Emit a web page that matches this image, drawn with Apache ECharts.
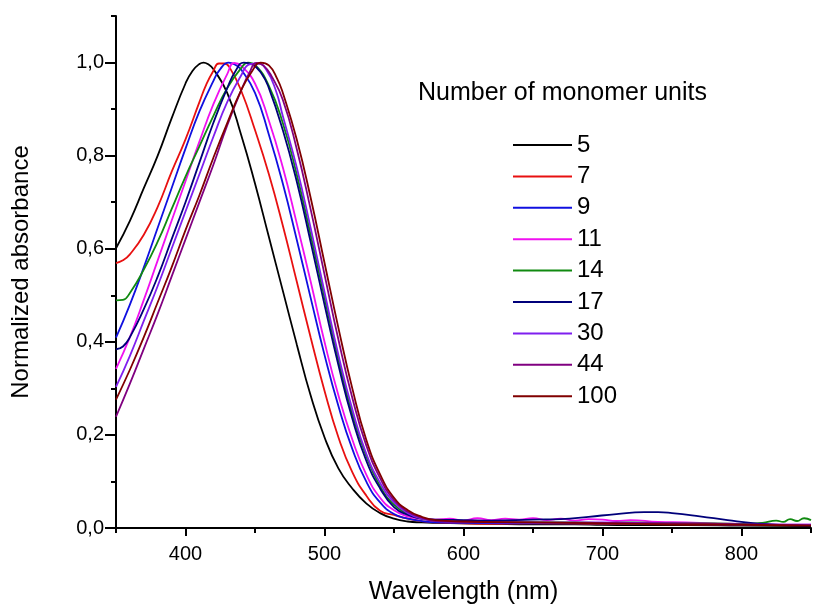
<!DOCTYPE html>
<html><head><meta charset="utf-8">
<script src="https://cdn.jsdelivr.net/npm/echarts@6.0.0/dist/echarts.min.js"></script>
<style>html,body{margin:0;padding:0;background:#fff}#c{width:814px;height:610px}</style>
</head><body><div id="c"></div>
<script>
// ---- data ----
const seriesNames = ['5','7','9','11','14','17','30','44','100'];
const seriesColors = ['#000000','#e81010','#1010e0','#f010f0','#108a10','#00007a','#7f1fef','#800080','#800000'];

const wl5 = [350,360,370,380,390,400,405,410,413,416,420,430,440,450,460,470,480,490,500,510,520,530,540,550,560,570,580,600,620,650,680,700,730,760,800,850];
const ab5 = [0.601,0.66,0.73,0.80,0.88,0.955,0.982,0.997,1.0,0.997,0.986,0.935,0.845,0.74,0.625,0.51,0.395,0.285,0.195,0.128,0.085,0.053,0.032,0.02,0.014,0.012,0.011,0.010,0.009,0.008,0.008,0.007,0.006,0.006,0.005,0.004];

const wl7 = [350,355,360,370,380,390,400,410,415,420,424,428,432,440,450,460,470,480,490,500,510,520,530,540,550,560,570,580,600,620,650,700,750,800,850];
const ab7 = [0.569,0.575,0.588,0.63,0.69,0.765,0.835,0.915,0.953,0.982,0.998,0.998,0.988,0.94,0.855,0.76,0.65,0.53,0.41,0.295,0.195,0.12,0.07,0.037,0.028,0.02,0.015,0.012,0.010,0.009,0.010,0.009,0.008,0.007,0.006];

const wl9 = [350,360,370,380,390,400,410,420,425,431,436,440,450,460,470,480,490,500,510,520,530,540,550,560,570,580,600,650,700,750,800,850];
const ab9 = [0.409,0.48,0.56,0.645,0.73,0.815,0.895,0.96,0.986,1.0,0.995,0.985,0.935,0.845,0.74,0.62,0.495,0.372,0.262,0.17,0.1,0.055,0.03,0.02,0.015,0.012,0.011,0.010,0.010,0.009,0.007,0.006];

const wl11 = [350,360,370,380,390,400,410,420,430,435,440,450,460,470,480,490,500,510,520,530,540,550,560,570,580,590,600,610,620,630,640,650,660,670,680,690,700,710,720,740,760,780,800,820,850];
const ab11 = [0.342,0.41,0.49,0.575,0.66,0.745,0.83,0.91,0.975,0.999,0.993,0.955,0.875,0.775,0.655,0.53,0.4,0.285,0.19,0.115,0.065,0.038,0.025,0.02,0.018,0.02,0.016,0.021,0.017,0.02,0.018,0.021,0.017,0.02,0.016,0.019,0.018,0.015,0.017,0.013,0.012,0.01,0.009,0.008,0.007];

const wl14 = [350,355,360,370,380,390,400,410,420,430,440,445,450,460,470,480,490,500,510,520,530,540,550,560,570,580,600,620,650,680,700,720,740,760,780,800,815,825,830,835,840,845,850];
const ab14 = [0.489,0.49,0.505,0.555,0.615,0.685,0.755,0.82,0.885,0.945,0.988,1.0,0.995,0.95,0.87,0.76,0.63,0.495,0.362,0.245,0.155,0.09,0.05,0.03,0.02,0.016,0.014,0.013,0.012,0.012,0.011,0.012,0.011,0.01,0.01,0.009,0.011,0.016,0.013,0.019,0.015,0.021,0.017];

const wl17 = [350,355,360,370,380,390,400,410,420,430,436,442,448,455,460,470,480,490,500,510,520,530,540,550,560,570,580,600,620,650,670,690,710,730,740,750,770,790,810,830,850];
const ab17 = [0.384,0.39,0.41,0.47,0.54,0.62,0.7,0.785,0.87,0.945,0.982,1.0,0.996,0.975,0.945,0.855,0.745,0.615,0.48,0.35,0.235,0.145,0.085,0.045,0.028,0.02,0.018,0.017,0.016,0.018,0.019,0.024,0.03,0.034,0.034,0.032,0.025,0.017,0.01,0.006,0.005];

const wl30 = [350,360,370,380,390,400,410,420,430,440,446,452,458,465,470,480,490,500,510,520,530,540,550,560,570,580,600,650,700,750,800,850];
const ab30 = [0.303,0.37,0.445,0.52,0.6,0.68,0.76,0.84,0.915,0.972,0.996,0.998,0.985,0.94,0.885,0.775,0.645,0.507,0.372,0.255,0.16,0.097,0.055,0.032,0.02,0.015,0.013,0.011,0.012,0.01,0.008,0.007];

const wl44 = [350,360,370,380,390,400,410,420,430,440,446,451,456,462,470,480,490,500,510,520,530,540,550,560,570,580,600,650,700,750,800,850];
const ab44 = [0.239,0.31,0.385,0.46,0.54,0.62,0.7,0.78,0.865,0.94,0.978,0.999,0.994,0.97,0.92,0.815,0.685,0.545,0.405,0.28,0.178,0.107,0.06,0.035,0.022,0.015,0.013,0.012,0.011,0.01,0.008,0.006];

const wl100 = [350,360,370,380,390,400,410,420,430,440,448,454,460,466,470,480,490,500,510,520,530,540,550,560,570,580,600,650,700,750,800,850];
const ab100 = [0.276,0.34,0.41,0.485,0.56,0.64,0.715,0.795,0.87,0.94,0.982,1.0,0.994,0.965,0.935,0.835,0.71,0.57,0.43,0.3,0.19,0.115,0.065,0.038,0.024,0.017,0.014,0.012,0.01,0.008,0.007,0.005];

const xTickLabels = [400,500,600,700,800];
const yTickLabels = [0,0.2,0.4,0.6,0.8,1.0];
const xTitle = 'Wavelength (nm)';
const yTitle = 'Normalized absorbance';
const legendTitle = 'Number of monomer units';

// ---- chart ----
const wls = [wl5,wl7,wl9,wl11,wl14,wl17,wl30,wl44,wl100];
const abs = [ab5,ab7,ab9,ab11,ab14,ab17,ab30,ab44,ab100];
const FONT = '"Liberation Sans", Arial, Helvetica, sans-serif';
const chart = echarts.init(document.getElementById('c'), null, {renderer:'canvas'});

const series = seriesNames.map((n,i)=>({
  name:n, type:'line', xAxisIndex:0, yAxisIndex:0,
  data: wls[i].map((x,j)=>[x, abs[i][j]]),
  showSymbol:false, symbol:'none', smooth:0.5,
  lineStyle:{color:seriesColors[i], width:1.8},
  itemStyle:{color:seriesColors[i]},
  emphasis:{disabled:true}
}));

const option = {
  animation:false,
  backgroundColor:'#ffffff',
  textStyle:{fontFamily:FONT},
  title:{text:legendTitle, left:418, top:81, padding:0,
    textStyle:{fontSize:25, fontWeight:'normal', color:'#000', fontFamily:FONT, lineHeight:25}},
  legend:{orient:'vertical', left:513, top:133, padding:0, itemWidth:59, itemHeight:2, itemGap:7.4,
    icon:'rect', data:seriesNames,
    textStyle:{fontSize:24, color:'#000', fontFamily:FONT, lineHeight:24}},
  grid:{left:116, right:-2, top:16, bottom:78},
  xAxis:[
    {type:'value', min:350, max:850, interval:50,
     axisLine:{lineStyle:{color:'#000', width:2}},
     axisTick:{length:5, lineStyle:{color:'#000', width:2}},
     axisLabel:{formatter:v=> xTickLabels.includes(v) ? String(v) : '', fontSize:20, color:'#000', margin:16, fontFamily:FONT},
     splitLine:{show:false},
     name:xTitle, nameLocation:'middle', nameGap:52,
     nameTextStyle:{fontSize:25, color:'#000', fontFamily:FONT}},
    {type:'value', min:350, max:850, position:'bottom',
     axisLine:{show:false},
     axisTick:{customValues:xTickLabels, length:8, lineStyle:{color:'#000', width:2}},
     axisLabel:{show:false}, splitLine:{show:false}}
  ],
  yAxis:[
    {type:'value', min:0, max:1.1, interval:0.1, position:'left',
     axisLine:{show:true, lineStyle:{color:'#000', width:2}},
     axisTick:{show:true, length:5, lineStyle:{color:'#000', width:2}},
     axisLabel:{formatter:v=>{const k=Math.round(v*10); return (k%2===0 && k<=10) ? (k/10).toFixed(1).replace('.',',') : '';},
       fontSize:20, color:'#000', margin:12, fontFamily:FONT},
     splitLine:{show:false},
     name:yTitle, nameLocation:'middle', nameGap:83,
     nameTextStyle:{fontSize:24, color:'#000', fontFamily:FONT}},
    {type:'value', min:0, max:1.1, position:'left',
     axisLine:{show:false},
     axisTick:{show:true, customValues:yTickLabels, length:11, lineStyle:{color:'#000', width:2}},
     axisLabel:{show:false}, splitLine:{show:false}}
  ],
  series: series
};
chart.setOption(option);
</script>
</body></html>
